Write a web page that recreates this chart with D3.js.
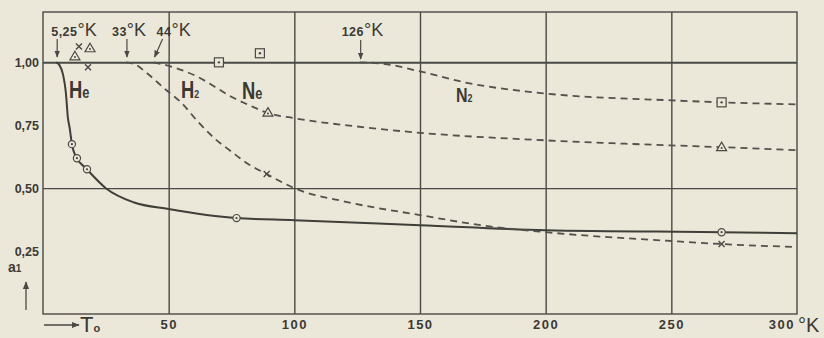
<!DOCTYPE html>
<html>
<head>
<meta charset="utf-8">
<script src="https://cdn.jsdelivr.net/npm/d3@7"></script>
<style>
  html, body { margin: 0; padding: 0; background: #ece8d9; }
  svg { display: block; }
  text { font-family: "Liberation Sans", Arial, sans-serif; fill: #3a3a35; }
</style>
</head>
<body>
<div class="chart"></div>
<script>
// a1 against the temperature T0 (°K)
const heT = [5.25, 6.5, 8, 9.1, 9.9, 10.6, 11.5, 13.2, 17, 25, 36, 50, 77, 100, 150, 200, 270, 300];
const heA = [1.0, 0.99, 0.95, 0.88, 0.78, 0.74, 0.675, 0.623, 0.58, 0.50, 0.444, 0.417, 0.381, 0.373, 0.353, 0.333, 0.325, 0.321];

const h2T = [33, 37, 41, 49, 55, 62, 68, 75, 81, 89, 100, 121, 150, 177, 200, 250, 270, 300];
const h2A = [1.0, 0.99, 0.96, 0.89, 0.84, 0.76, 0.70, 0.645, 0.60, 0.556, 0.50, 0.445, 0.393, 0.349, 0.325, 0.29, 0.278, 0.266];

const neT = [44, 52, 62, 68, 75.5, 82, 89, 100, 125, 150, 200, 250, 270, 300];
const neA = [1.0, 0.98, 0.94, 0.905, 0.86, 0.83, 0.80, 0.778, 0.745, 0.72, 0.69, 0.67, 0.663, 0.651];

const n2T = [126, 135, 150, 168, 200, 250, 270, 300];
const n2A = [1.0, 0.995, 0.964, 0.92, 0.876, 0.849, 0.841, 0.833];

// measured points
const heDotT = [11.5, 13.5, 17.5, 77, 270];
const heDotA = [0.675, 0.619, 0.575, 0.381, 0.325];
const h2DotT = [14.3, 17.9, 89, 270];
const h2DotA = [1.063, 0.98, 0.556, 0.278];
const neDotT = [12.7, 18.7, 89.5, 270];
const neDotA = [1.024, 1.056, 0.80, 0.663];
const n2DotT = [70, 86.3, 270];
const n2DotA = [1.0, 1.036, 0.841];

// critical temperatures marked at the top
const critT = [5.25, 33, 44, 126];
const critLabel = ["5,25", "33", "44", "126"];

const xTicks = [50, 100, 150, 200, 250];
const yTicks = [0.25, 0.5, 0.75, 1.0];
const yGrid = [0.5, 1.0];

const width = 824, height = 338;
const ink = "#4a4944";

const x = d3.scaleLinear().domain([0, 300]).range([43, 797]);
const y = d3.scaleLinear().domain([0, 1.2]).range([314, 12]);

const svg = d3.select(".chart")
  .append("svg")
  .attr("width", width)
  .attr("height", height);

svg.append("defs").append("marker")
  .attr("id", "head")
  .attr("viewBox", "0 0 10 10")
  .attr("refX", 9).attr("refY", 5)
  .attr("markerWidth", 6).attr("markerHeight", 6)
  .attr("orient", "auto")
  .append("path")
  .attr("d", "M0,1 L10,5 L0,9 Z")
  .attr("fill", ink);

// grid
svg.append("g")
  .attr("transform", `translate(0,${y(0)})`)
  .call(d3.axisBottom(x).tickValues(xTicks).tickSize(-(y(0) - y(1.2))).tickFormat(""))
  .call(g => g.select(".domain").remove())
  .call(g => g.selectAll("line").attr("stroke", ink).attr("stroke-width", 1.4));

svg.append("g")
  .attr("transform", `translate(${x(0)},0)`)
  .call(d3.axisLeft(y).tickValues(yGrid).tickSize(-(x(300) - x(0))).tickFormat(""))
  .call(g => g.select(".domain").remove())
  .call(g => g.selectAll("line").attr("stroke", ink).attr("stroke-width", (d) => d === 1 ? 2 : 1.4));

svg.append("rect")
  .attr("x", x(0)).attr("y", y(1.2))
  .attr("width", x(300) - x(0)).attr("height", y(0) - y(1.2))
  .attr("fill", "none").attr("stroke", ink).attr("stroke-width", 1.4);

// tick labels
const comma = d => d3.format(".2f")(d).replace(".", ",");

svg.append("g")
  .attr("transform", `translate(${x(0)},0)`)
  .call(d3.axisLeft(y).tickValues(yTicks).tickSize(0).tickPadding(4).tickFormat(comma))
  .call(g => g.select(".domain").remove())
  .call(g => g.selectAll("text")
    .attr("font-family", "Liberation Sans").attr("font-size", 12.5)
    .attr("font-weight", "bold").attr("fill", "#3a3a35"));

svg.append("g")
  .attr("transform", `translate(0,${y(0)})`)
  .call(d3.axisBottom(x).tickValues(xTicks).tickSize(0).tickPadding(6))
  .call(g => g.select(".domain").remove())
  .call(g => g.selectAll("text")
    .attr("font-family", "Liberation Sans").attr("font-size", 13)
    .attr("font-weight", "bold").attr("letter-spacing", 1.5).attr("fill", "#3a3a35"));

svg.append("text")
  .attr("x", x(300) - 2).attr("y", 329)
  .attr("text-anchor", "end")
  .attr("font-size", 13).attr("font-weight", "bold").attr("letter-spacing", 1.5)
  .text("300");
svg.append("text")
  .attr("x", x(300) + 1).attr("y", 332)
  .attr("font-size", 20)
  .text("°K");

// axis names
svg.append("line")
  .attr("x1", 44).attr("y1", 325).attr("x2", 79).attr("y2", 325)
  .attr("stroke", ink).attr("stroke-width", 1.3)
  .attr("marker-end", "url(#head)");
const tName = svg.append("text").attr("x", 80).attr("y", 332).attr("font-size", 22);
tName.append("tspan").text("T");
tName.append("tspan").attr("font-size", 11).attr("font-weight", "bold").text("o");

svg.append("line")
  .attr("x1", 26).attr("y1", 310).attr("x2", 26).attr("y2", 282)
  .attr("stroke", ink).attr("stroke-width", 1.3)
  .attr("marker-end", "url(#head)");
const aName = svg.append("text").attr("x", 8).attr("y", 272).attr("font-size", 14).attr("font-weight", "bold");
aName.append("tspan").text("a");
aName.append("tspan").attr("font-size", 10).text("1");

// curves
const line = d3.line()
  .x(d => x(d[0]))
  .y(d => y(d[1]))
  .curve(d3.curveMonotoneX);

const curves = [
  { t: heT, a: heA, dash: null },
  { t: h2T, a: h2A, dash: "7,5" },
  { t: neT, a: neA, dash: "7,5" },
  { t: n2T, a: n2A, dash: "7,5" }
];

svg.append("g")
  .selectAll("path")
  .data(curves)
  .join("path")
  .attr("d", d => line(d3.zip(d.t, d.a)))
  .attr("fill", "none")
  .attr("stroke", d => d.dash ? "#52514b" : "#3f3e39")
  .attr("stroke-width", d => d.dash ? 1.8 : 2)
  .attr("stroke-dasharray", d => d.dash);

// point symbols
const paper = "#ece8d9";

const he = svg.append("g").selectAll("g").data(d3.zip(heDotT, heDotA)).join("g")
  .attr("transform", d => `translate(${x(d[0])},${y(d[1])})`);
he.append("circle").attr("r", 3.6).attr("fill", paper).attr("stroke", ink).attr("stroke-width", 1.2);
he.append("circle").attr("r", 1.1).attr("fill", ink);

svg.append("g").selectAll("path").data(d3.zip(h2DotT, h2DotA)).join("path")
  .attr("d", d => {
    const cx = x(d[0]), cy = y(d[1]);
    return `M${cx - 3},${cy - 3}L${cx + 3},${cy + 3}M${cx - 3},${cy + 3}L${cx + 3},${cy - 3}`;
  })
  .attr("stroke", ink).attr("stroke-width", 1.4);

const ne = svg.append("g").selectAll("g").data(d3.zip(neDotT, neDotA)).join("g")
  .attr("transform", d => `translate(${x(d[0])},${y(d[1])})`);
ne.append("path").attr("d", "M0,-5L5,3.5L-5,3.5Z")
  .attr("fill", paper).attr("stroke", ink).attr("stroke-width", 1.2);
ne.append("circle").attr("cy", 0.8).attr("r", 1).attr("fill", ink);

const n2 = svg.append("g").selectAll("g").data(d3.zip(n2DotT, n2DotA)).join("g")
  .attr("transform", d => `translate(${x(d[0])},${y(d[1])})`);
n2.append("rect").attr("x", -4.5).attr("y", -4.5).attr("width", 9).attr("height", 9)
  .attr("fill", paper).attr("stroke", ink).attr("stroke-width", 1.2);
n2.append("circle").attr("r", 1.2).attr("fill", ink);

// critical temperature marks
const shift = [-5, -14, 3, -18];
const ann = svg.append("g").selectAll("text").data(critT).join("text")
  .attr("x", (d, i) => x(d) + shift[i])
  .attr("y", 36);
ann.append("tspan").attr("font-size", 12.5).attr("font-weight", "bold").attr("letter-spacing", 0.5)
  .text((d, i) => critLabel[i]);
ann.append("tspan").attr("font-size", 18).text("°K");

svg.append("g").selectAll("line").data(critT).join("line")
  .attr("x1", (d, i) => i === 2 ? x(d) + 9 : x(d) + 1)
  .attr("y1", (d, i) => i === 3 ? 40 : 39)
  .attr("x2", d => x(d) + 1)
  .attr("y2", (d, i) => i === 3 ? 59 : 57)
  .attr("stroke", ink).attr("stroke-width", 1.2)
  .attr("marker-end", "url(#head)");

// gas names
const names = [
  { big: "H", small: "e", sub: false, px: 69, py: 98 },
  { big: "H", small: "2", sub: true, px: 181, py: 98 },
  { big: "N", small: "e", sub: false, px: 242, py: 99 },
  { big: "N", small: "2", sub: true, px: 456, py: 102 }
];
const gas = svg.append("g").selectAll("text").data(names).join("text")
  .attr("transform", d => `translate(${d.px},${d.py}) scale(0.8,1)`)
  .attr("font-size", d => d.big === "N" && d.sub ? 20 : 23)
  .attr("font-weight", "bold");
gas.append("tspan").text(d => d.big);
gas.append("tspan").attr("font-size", d => d.sub ? 11 : 16).text(d => d.small);
</script>
</body>
</html>
